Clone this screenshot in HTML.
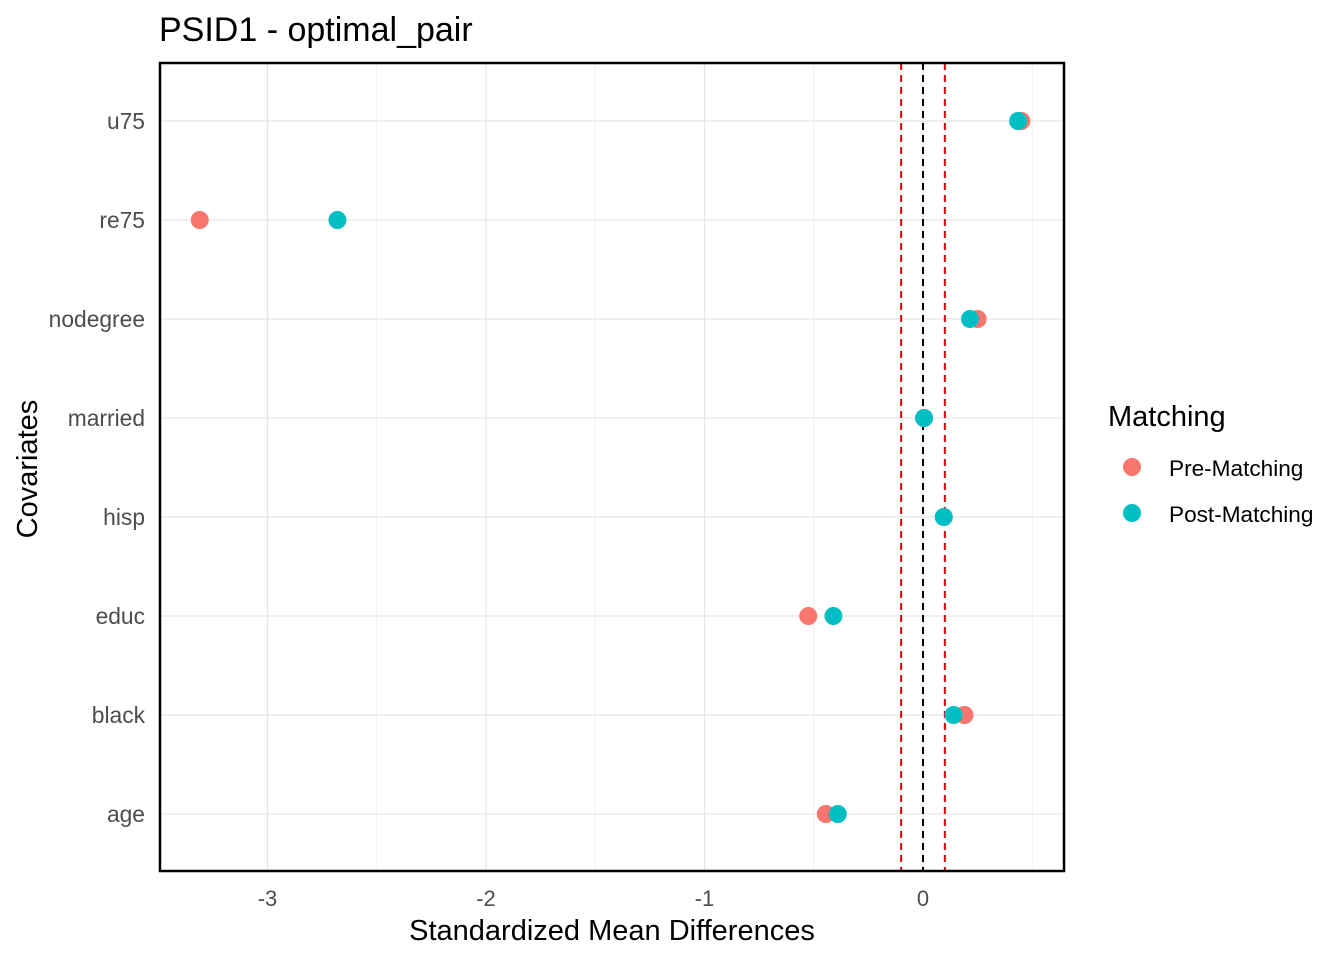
<!DOCTYPE html>
<html><head><meta charset="utf-8"><style>
body{margin:0;background:#fff;font-family:"Liberation Sans",sans-serif;}
svg text{font-family:"Liberation Sans",sans-serif;}
</style></head><body>
<svg id="chart" width="1344" height="960">
<text x="159" y="41" font-size="34" fill="#000">PSID1 - optimal_pair</text>
<g id="grid"></g>
<g id="marks"></g>
<rect x="160" y="63" width="904" height="808" fill="none" stroke="#000" stroke-width="2.5"/>
<text x="612" y="940" font-size="29" text-anchor="middle" fill="#000">Standardized Mean Differences</text>
<text transform="translate(37,469) rotate(-90)" font-size="29" text-anchor="middle" fill="#000">Covariates</text>
<g>
<text x="1108" y="426" font-size="29" fill="#000">Matching</text>
<circle cx="1132" cy="467" r="9" fill="#F8766D"/>
<text x="1169" y="476" font-size="22.6" fill="#000">Pre-Matching</text>
<circle cx="1132" cy="513" r="9" fill="#00BFC4"/>
<text x="1169" y="522" font-size="22.6" fill="#000">Post-Matching</text>
</g>
</svg>
<script>
const categories=["u75","re75","nodegree","married","hisp","educ","black","age"];
const preValues=[0.45,-3.31,0.25,0.005,0.095,-0.525,0.19,-0.445];
const postValues=[0.435,-2.68,0.215,0.005,0.095,-0.41,0.14,-0.39];
const xTicks=[-3,-2,-1,0];
const xMinor=[-3.5,-2.5,-1.5,-0.5,0.5];
const thresholds=[-0.1,0.1];
const NS="http://www.w3.org/2000/svg";
const x=v=>923+v*218.5;
const y=i=>121+i*99;
function mk(tag,attrs,parent){const e=document.createElementNS(NS,tag);for(const k in attrs)e.setAttribute(k,attrs[k]);parent.appendChild(e);return e;}
const grid=document.getElementById('grid'),marks=document.getElementById('marks');
xMinor.forEach(v=>{if(x(v)>160&&x(v)<1064){const l=mk('line',{x1:x(v),x2:x(v),y1:63,y2:871,stroke:'#f0f0f0','stroke-width':1},grid);

}});
xTicks.forEach(v=>{const l=mk('line',{x1:x(v),x2:x(v),y1:63,y2:871,stroke:'#e6e6e6','stroke-width':1.3},grid);


const t=mk('text',{x:x(v),y:906,'font-size':22,'text-anchor':'middle',fill:'#4d4d4d'},grid);t.textContent=v;

});
categories.forEach((c,i)=>{const l=mk('line',{x1:160,x2:1064,y1:y(i),y2:y(i),stroke:'#e6e6e6','stroke-width':1.3},grid);


const t=mk('text',{x:145,y:y(i)+8,'font-size':22.8,'text-anchor':'end',fill:'#4d4d4d'},grid);t.textContent=c;

});
thresholds.forEach(v=>{const l=mk('line',{x1:x(v),x2:x(v),y1:63,y2:871,stroke:'#e00000','stroke-width':2,'stroke-dasharray':'7,5'},grid);

});
const z=mk('line',{x1:x(0),x2:x(0),y1:63,y2:871,stroke:'#000','stroke-width':2,'stroke-dasharray':'7,5'},grid);


categories.forEach((c,i)=>{const p=mk('circle',{cx:x(preValues[i]),cy:y(i),r:9,fill:'#F8766D'},marks);

});
categories.forEach((c,i)=>{const p=mk('circle',{cx:x(postValues[i]),cy:y(i),r:9,fill:'#00BFC4'},marks);

});
</script>
</body></html>
